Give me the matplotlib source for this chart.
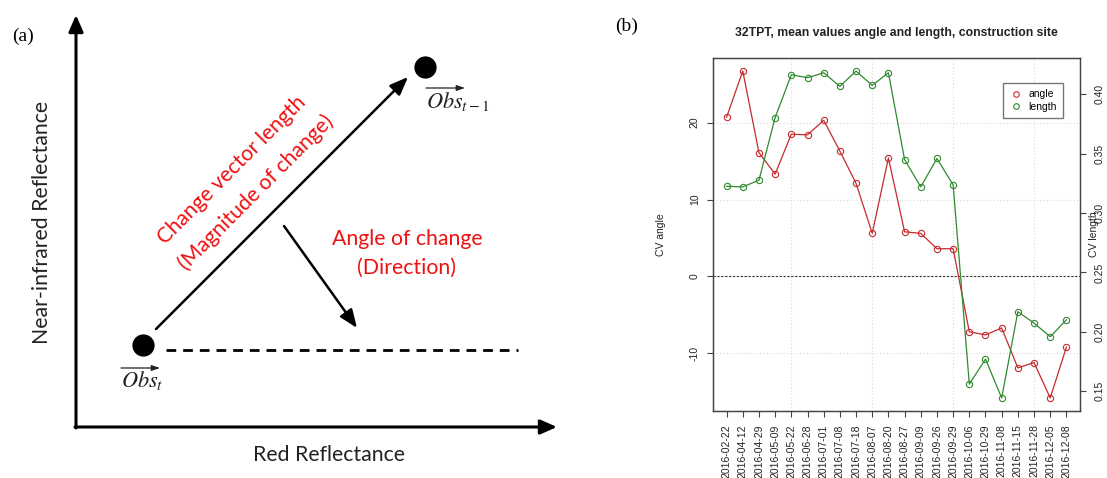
import matplotlib.pyplot as plt
from matplotlib.lines import Line2D

# acquisition dates and mean CV values for tile 32TPT
dates = ["2016-02-22", "2016-04-12", "2016-04-29", "2016-05-09", "2016-05-22",
         "2016-06-28", "2016-07-01", "2016-07-08", "2016-07-18", "2016-08-07",
         "2016-08-20", "2016-08-27", "2016-09-09", "2016-09-26", "2016-09-29",
         "2016-10-06", "2016-10-29", "2016-11-08", "2016-11-15", "2016-11-28",
         "2016-12-05", "2016-12-08"]
cv_angle = [20.7, 26.7, 16.1, 13.3, 18.5, 18.4, 20.3, 16.3, 12.1, 5.6, 15.4,
            5.8, 5.6, 3.6, 3.6, -7.2, -7.6, -6.7, -11.9, -11.2, -15.8, -9.2]
cv_length = [0.3225, 0.322, 0.3276, 0.3804, 0.4164, 0.4139, 0.4181, 0.4066,
             0.4195, 0.4074, 0.4181, 0.345, 0.322, 0.3459, 0.3237, 0.1559,
             0.177, 0.1443, 0.2169, 0.2073, 0.1958, 0.2101]
angle_ticks = [-10, 0, 10, 20]
length_ticks = [0.15, 0.20, 0.25, 0.30, 0.35, 0.40]
grid_idx = [4, 9, 14, 19]

# sketch positions (pixels) for the schematic on the left
obs_t = (143, 345)
obs_t1 = (425, 67)
origin = (76, 427)

W, H = 1107, 478
fig = plt.figure(figsize=(W / 100, H / 100), dpi=100)

# ---- (a) change vector schematic ----
ax0 = fig.add_axes([0, 0, 560 / W, 1])
ax0.set_xlim(0, 560)
ax0.set_ylim(H, 0)
ax0.axis('off')

axis_arrow = dict(arrowstyle='-|>,head_length=0.5,head_width=0.22', lw=2.2,
                  color='black', shrinkA=0, shrinkB=0, mutation_scale=20)
ax0.annotate('', xy=(origin[0], 15), xytext=(origin[0], origin[1] + 1), arrowprops=axis_arrow)
ax0.annotate('', xy=(557, origin[1]), xytext=(origin[0] - 1, origin[1]), arrowprops=axis_arrow)

ax0.plot(*obs_t, 'o', color='black', ms=15)
ax0.plot(*obs_t1, 'o', color='black', ms=15)
ax0.plot([166, 518], [350, 350], color='black', lw=2, ls=(0, (3.5, 2.5)))

vec_arrow = dict(arrowstyle='-|>,head_length=0.55,head_width=0.22', lw=1.8,
                 color='black', shrinkA=0, shrinkB=0, mutation_scale=20)
ax0.annotate('', xy=(408, 77), xytext=(156, 329), arrowprops=vec_arrow)
ax0.annotate('', xy=(357, 328), xytext=(284, 226), arrowprops=vec_arrow)

sans = 'Lato'
fs = 15.3
ax0.text(42, 222, 'Near-infrared Reflectance', rotation=90, ha='center', va='center',
         fontsize=fs, family=sans, color='#222222')
ax0.text(329, 455, 'Red Reflectance', ha='center', va='center', fontsize=fs,
         family=sans, color='#222222')
ax0.text(232, 170, 'Change vector length', rotation=45, rotation_mode='anchor',
         ha='center', va='center', fontsize=fs, family=sans, color='#ee1111')
ax0.text(256, 192, '(Magnitude of change)', rotation=45, rotation_mode='anchor',
         ha='center', va='center', fontsize=fs, family=sans, color='#ee1111')
ax0.text(407, 239, 'Angle of change', ha='center', va='center', fontsize=fs,
         family=sans, color='#ee1111')
ax0.text(407, 268, '(Direction)', ha='center', va='center', fontsize=fs,
         family=sans, color='#ee1111')

# observation vector labels with a thin arrow over "Obs"
plt.rcParams['mathtext.fontset'] = 'stix'
small_arrow = dict(arrowstyle='-|>,head_length=0.35,head_width=0.12', lw=0.9,
                   color='#222222', shrinkA=0, shrinkB=0, mutation_scale=14)
for x0, y0, sub in [(121, 381, 't'), (426, 101, 't-1')]:
    ax0.text(x0, y0, r'$Obs_{%s}$' % sub, ha='left', va='center', fontsize=16,
             color='#222222')
    ax0.annotate('', xy=(x0 + 39, y0 - 13), xytext=(x0, y0 - 13), arrowprops=small_arrow)

ax0.text(23, 36, '(a)', ha='center', va='center', fontsize=14, family='Liberation Serif')
fig.text(627 / W, 1 - 26 / H, '(b)', ha='center', va='center', fontsize=14,
         family='Liberation Serif')

# ---- (b) mean CV angle and length over time ----
plt.rcParams['font.family'] = 'Liberation Sans'
red = '#c62a2f'
green = '#2f8a2f'
txt = '#222222'

L, R_, T, B = 713, 1080, 58, 411
ax = fig.add_axes([L / W, 1 - B / H, (R_ - L) / W, (B - T) / H])
ax2 = ax.twinx()
x = list(range(len(dates)))


def r_lim(v):
    lo, hi = min(v), max(v)
    pad = (hi - lo) * 0.04
    return lo - pad, hi + pad


for gx in grid_idx:
    ax.axvline(gx, color='#d8d8d8', lw=0.8, ls=(0, (1, 2)), zorder=0)
for gy in angle_ticks:
    ax.axhline(gy, color='#d8d8d8', lw=0.8, ls=(0, (1, 2)), zorder=0)
ax.axhline(0, color='#333333', lw=0.8, ls=(0, (2, 1.5)), zorder=1)

ax.plot(x, cv_angle, color=red, lw=0.9, marker='o', ms=4.5, mfc='none',
        mec=red, mew=0.8, zorder=3)
ax2.plot(x, cv_length, color=green, lw=0.9, marker='o', ms=4.5, mfc='none',
         mec=green, mew=0.8, zorder=3)

ax.set_xlim(-0.04 * 21, 21 + 0.04 * 21)
ax.set_ylim(*r_lim(cv_angle))
ax2.set_ylim(*r_lim(cv_length))

ax.set_xticks(x)
ax.set_xticklabels(dates, rotation=90, fontsize=7.5, color=txt)
ax.set_yticks(angle_ticks)
ax.set_yticklabels([str(t) for t in angle_ticks], rotation=90, va='center',
                   fontsize=7.5, color=txt)
ax2.set_yticks(length_ticks)
ax2.set_yticklabels(['%.2f' % t for t in length_ticks], rotation=90, va='center',
                    fontsize=7.5, color=txt)
ax.tick_params(axis='x', length=4.5, width=0.8, pad=5, colors='#444444', labelcolor=txt)
ax.tick_params(axis='y', length=4.5, width=0.8, pad=5, colors='#444444', labelcolor=txt)
ax2.tick_params(axis='y', length=4.5, width=0.8, pad=6, colors='#444444', labelcolor=txt)
for a in (ax, ax2):
    for s in a.spines.values():
        s.set_color('#444444')
        s.set_linewidth(0.9)

ax.set_ylabel('CV angle', fontsize=7.5, color=txt)
ax.yaxis.set_label_coords((666 - L) / (R_ - L), 0.5)
ax2.set_ylabel('CV length', fontsize=7.5, color=txt)
ax2.yaxis.set_label_coords((1089 - L) / (R_ - L), 0.5)

ax.set_title('32TPT, mean values angle and length, construction site',
             fontsize=8.8, fontweight='bold', color=txt, pad=0, y=(B - 33) / (B - T), va='center')

handles = [Line2D([], [], ls='none', marker='o', ms=4, mfc='none', mec=red, mew=0.8),
           Line2D([], [], ls='none', marker='o', ms=4, mfc='none', mec=green, mew=0.8)]
leg = ax2.legend(handles, ['angle', 'length'], loc='upper right',
                 bbox_to_anchor=((1063 - L) / (R_ - L), (B - 83) / (B - T)),
                 borderaxespad=0, fancybox=False, framealpha=1, edgecolor='#777777',
                 fontsize=7.5, handlelength=1.2, handletextpad=0.6, borderpad=0.6,
                 labelspacing=0.25)
leg.get_frame().set_linewidth(1.0)

fig.savefig('out.png', dpi=100)
